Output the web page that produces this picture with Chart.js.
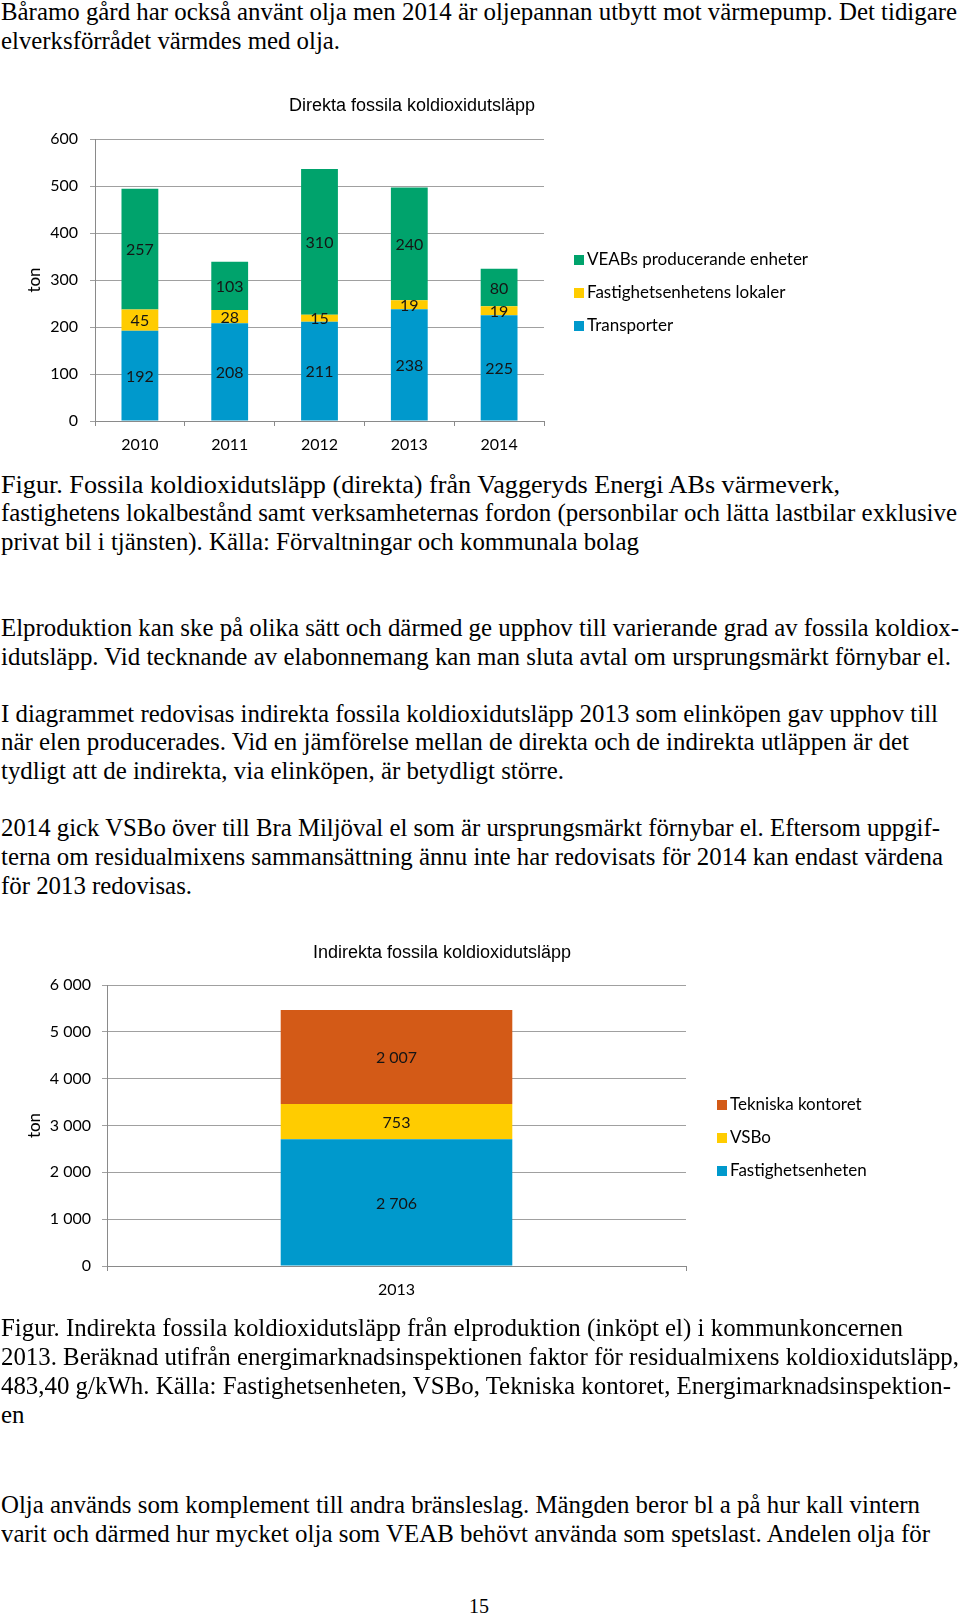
<!DOCTYPE html>
<html>
<head>
<meta charset="utf-8">
<script src="https://cdn.jsdelivr.net/npm/chart.js@4.4.1/dist/chart.umd.min.js"></script>
<style>
  body { margin: 0; background: #fff; }
  #page { position: relative; width: 960px; height: 1616px; overflow: hidden; }
  .ln { position: absolute; left: 1px; white-space: nowrap; font-family: "Liberation Serif", "Times New Roman", serif;
        font-size: 25px; line-height: 29px; color: #000; transform-origin: 0 0; }
  canvas { position: absolute; left: 0; }
</style>
</head>
<body>
<div id="page">
  <canvas id="direkt" width="830" height="370" style="top:90px"></canvas>
  <canvas id="indirekt" width="880" height="380" style="top:935px"></canvas>
</div>
<script>
  // direkta utsläpp
  const years = ['2010', '2011', '2012', '2013', '2014'];
  const transporter = [192, 208, 211, 238, 225];
  const fastLokaler = [45, 28, 15, 19, 19];
  const veab = [257, 103, 310, 240, 80];
  const direktTickLabels = ['0', '100', '200', '300', '400', '500', '600'];

  // indirekta utsläpp
  const indirektYears = ['2013'];
  const fastighetsenheten = [2706];
  const vsbo = [753];
  const tekniska = [2007];
  const indirektTickLabels = ['0', '1 000', '2 000', '3 000', '4 000', '5 000', '6 000'];

  const lines = [
    ['Båramo gård har också använt olja men 2014 är oljepannan utbytt mot värmepump. Det tidigare', 12, 957],
    ['elverksförrådet värmdes med olja.', 41, 340],
    ['Figur. Fossila koldioxidutsläpp (direkta) från Vaggeryds Energi ABs värmeverk,', 485, 840],
    ['fastighetens lokalbestånd samt verksamheternas fordon (personbilar och lätta lastbilar exklusive', 513, 957],
    ['privat bil i tjänsten). Källa: Förvaltningar och kommunala bolag', 542, 639],
    ['Elproduktion kan ske på olika sätt och därmed ge upphov till varierande grad av fossila koldiox-', 628, 959],
    ['idutsläpp. Vid tecknande av elabonnemang kan man sluta avtal om ursprungsmärkt förnybar el.', 657, 951],
    ['I diagrammet redovisas indirekta fossila koldioxidutsläpp 2013 som elinköpen gav upphov till', 714, 938],
    ['när elen producerades. Vid en jämförelse mellan de direkta och de indirekta utläppen är det', 742, 909],
    ['tydligt att de indirekta, via elinköpen, är betydligt större.', 771, 564],
    ['2014 gick VSBo över till Bra Miljöval el som är ursprungsmärkt förnybar el. Eftersom uppgif-', 828, 940],
    ['terna om residualmixens sammansättning ännu inte har redovisats för 2014 kan endast värdena', 857, 943],
    ['för 2013 redovisas.', 886, 192],
    ['Figur. Indirekta fossila koldioxidutsläpp från elproduktion (inköpt el) i kommunkoncernen', 1328, 903],
    ['2013. Beräknad utifrån energimarknadsinspektionen faktor för residualmixens koldioxidutsläpp,', 1357, 959],
    ['483,40 g/kWh. Källa: Fastighetsenheten, VSBo, Tekniska kontoret, Energimarknadsinspektion-', 1386, 951],
    ['en', 1415, null],
    ['Olja används som komplement till andra bränsleslag. Mängden beror bl a på hur kall vintern', 1505, 920],
    ['varit och därmed hur mycket olja som VEAB behövt använda som spetslast. Andelen olja för', 1534, 930]
  ];

  const page = document.getElementById('page');
  let lastScale = 1;
  lines.forEach(([txt, cy, right]) => {
    const d = document.createElement('div');
    d.className = 'ln';
    d.textContent = txt;
    d.style.top = (cy - 15.4) + 'px';
    page.appendChild(d);
    const w = d.getBoundingClientRect().width;
    const s = right ? (right - 1) / w : lastScale;
    lastScale = s;
    d.style.transform = 'scaleX(' + s + ')';
  });
  const pn = document.createElement('div');
  pn.className = 'ln';
  pn.textContent = '15';
  pn.style.fontSize = '20px';
  pn.style.left = '469px';
  pn.style.top = '1592px';
  page.appendChild(pn);

  const calibri = '"Lato", "Open Sans", sans-serif';
  const gridGrey = '#a0a0a0';
  const axisGrey = '#8a8a8a';

  // värden mitt i varje stapelsegment
  const segmentLabels = {
    id: 'segmentLabels',
    afterDatasetsDraw(chart, args, opts) {
      const ctx = chart.ctx;
      ctx.save();
      ctx.font = opts.font;
      ctx.fillStyle = opts.color;
      ctx.textAlign = 'center';
      ctx.textBaseline = 'middle';
      chart.data.datasets.forEach((ds, i) => {
        chart.getDatasetMeta(i).data.forEach((el, j) => {
          ctx.fillText(opts.format(ds.data[j]), el.x, (el.y + el.base) / 2 + 1);
        });
      });
      ctx.restore();
    }
  };

  // titel och förklaring på fasta platser som i Excel-diagrammet
  const sideLegend = {
    id: 'sideLegend',
    afterDraw(chart, args, opts) {
      const ctx = chart.ctx;
      ctx.save();
      ctx.font = opts.titleFont;
      ctx.fillStyle = '#000';
      ctx.textAlign = 'center';
      ctx.textBaseline = 'middle';
      ctx.fillText(opts.title, opts.titleX, opts.titleY);
      ctx.font = opts.font;
      ctx.textAlign = 'left';
      const ds = chart.data.datasets.slice().reverse();
      ds.forEach((d, i) => {
        const y = opts.y + i * opts.step;
        ctx.fillStyle = d.backgroundColor;
        ctx.fillRect(opts.x, y - 5, 10, 10);
        ctx.fillStyle = '#000';
        ctx.fillText(d.label, opts.x + 13, y);
      });
      ctx.restore();
    }
  };

  function baseOptions(cfg) {
    return {
      responsive: false,
      animation: false,
      layout: { padding: { left: 0, top: cfg.top, right: cfg.right, bottom: 0 } },
      plugins: {
        legend: { display: false },
        tooltip: { enabled: false },
        title: { display: false },
        segmentLabels: { font: '16px ' + calibri, color: '#151515', format: cfg.format },
        sideLegend: cfg.legend
      },
      scales: {
        x: {
          stacked: true,
          grid: { drawOnChartArea: false, tickLength: 5, color: axisGrey },
          border: { color: axisGrey },
          ticks: { color: '#000', padding: 9, font: { family: calibri, size: 16 } },
          afterFit: s => { s.height = cfg.xh; }
        },
        y: {
          stacked: true,
          min: 0,
          max: cfg.max,
          ticks: {
            stepSize: cfg.max / 6,
            padding: cfg.tickPad,
            color: '#000',
            font: { family: calibri, size: 16 },
            callback: (v, i) => cfg.tickLabels[i]
          },
          grid: { tickLength: 5, color: gridGrey },
          border: { color: axisGrey },
          title: { display: true, text: 'ton', color: '#000', padding: { top: 24, bottom: 0 }, font: { family: calibri, size: 17 } },
          afterFit: s => { s.width = cfg.yw; }
        }
      }
    };
  }

  new Chart(document.getElementById('direkt'), {
    type: 'bar',
    data: {
      labels: years,
      datasets: [
        { label: 'Transporter', data: transporter, backgroundColor: '#0099cc' },
        { label: 'Fastighetsenhetens lokaler', data: fastLokaler, backgroundColor: '#ffcc00' },
        { label: 'VEABs producerande enheter', data: veab, backgroundColor: '#00a36c' }
      ].map(d => Object.assign(d, { categoryPercentage: 1, barPercentage: 0.41, borderWidth: 0 }))
    },
    options: baseOptions({
      top: 49, right: 286, xh: 39, yw: 95, max: 600, tickPad: 12,
      tickLabels: direktTickLabels,
      format: v => String(v),
      legend: { title: 'Direkta fossila koldioxidutsläpp', titleX: 412, titleY: 16, titleFont: '18px "Liberation Sans", Arial, sans-serif',
                font: '17px ' + calibri, x: 574, y: 170, step: 33 }
    }),
    plugins: [segmentLabels, sideLegend]
  });

  new Chart(document.getElementById('indirekt'), {
    type: 'bar',
    data: {
      labels: indirektYears,
      datasets: [
        { label: 'Fastighetsenheten', data: fastighetsenheten, backgroundColor: '#0099cc' },
        { label: 'VSBo', data: vsbo, backgroundColor: '#ffcc00' },
        { label: 'Tekniska kontoret', data: tekniska, backgroundColor: '#d35a17' }
      ].map(d => Object.assign(d, { categoryPercentage: 1, barPercentage: 0.40, borderWidth: 0 }))
    },
    options: baseOptions({
      top: 50, right: 194, xh: 49, yw: 107, max: 6000, tickPad: 11,
      tickLabels: indirektTickLabels,
      format: v => String(v).replace(/\B(?=(\d{3})+(?!\d))/g, ' '),
      legend: { title: 'Indirekta fossila koldioxidutsläpp', titleX: 442, titleY: 18, titleFont: '18px "Liberation Sans", Arial, sans-serif',
                font: '17px ' + calibri, x: 717, y: 170, step: 33 }
    }),
    plugins: [segmentLabels, sideLegend]
  });
</script>
</body>
</html>
